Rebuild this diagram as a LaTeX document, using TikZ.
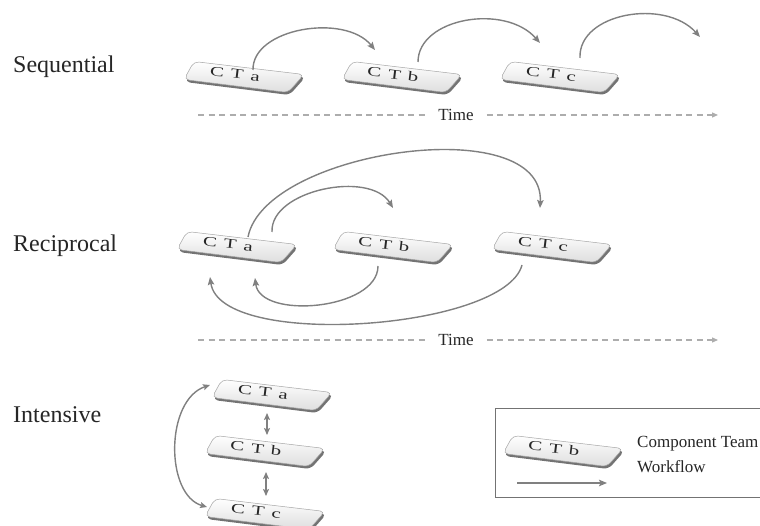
\documentclass[tikz,border=0pt]{standalone}
\usepackage{fontspec}
\setmainfont{Liberation Serif}
\usetikzlibrary{calc,arrows.meta}
\tikzset{
  flow/.style={draw=black!50, line width=1.4pt, -{Stealth[length=8pt,width=6.5pt,inset=1.5pt]}},
  flowboth/.style={draw=black!50, line width=1.4pt, {Stealth[length=7pt,width=6pt,inset=1.5pt]}-{Stealth[length=7pt,width=6pt,inset=1.5pt]}},
  timeline/.style={draw=black!32, line width=1.2pt, dash pattern=on 6pt off 4.5pt},
  timetip/.style={-{Triangle[length=6pt,width=5pt]}},
  rowlabel/.style={font=\fontsize{24}{28}\selectfont, anchor=base west, inner sep=0pt, text=black!85},
  timetext/.style={font=\fontsize{17}{20}\selectfont, anchor=base, inner ysep=0pt, inner xsep=13pt, text=black!85},
  legtext/.style={font=\fontsize{17}{20}\selectfont, anchor=base west, inner sep=0pt, text=black!85},
  tiletext/.style={font=\fontsize{15}{17}\selectfont, rotate=-7, xscale=1.4, yscale=0.9, inner sep=0pt, text=black!85},
  tileshadow/.style={fill=black!55, rounded corners=5pt},
  tileface/.style={top color=white, bottom color=black!13, draw=black!35, line width=0.5pt, rounded corners=5pt},
  legbox/.style={draw=black!55, line width=0.8pt}
}
\newcommand{\ctilebox}[4]{%
  \coordinate (#1) at (#2,#3);
  \fill[tileshadow] ($(#1)+(-49,-13)$) -- ($(#1)+(61.5,0)$) -- ($(#1)+(45.5,18)$) -- ($(#1)+(-59,5)$) -- cycle;
  \shade[tileface] ($(#1)+(-50,-15.5)$) -- ($(#1)+(60,-2.5)$) -- ($(#1)+(44,15.5)$) -- ($(#1)+(-60,2.5)$) -- cycle;
  \node[tiletext] (#1-t) at ($(#1)+(-9,-3)$) {C\hspace{5pt}T\hspace{5pt}#4};
}
\begin{document}
\begin{tikzpicture}[x=1pt,y=-1pt]
\useasboundingbox[fill=white] (0,0) rectangle (760,526);

% ---------- row labels ----------
\node[rowlabel] (lseq) at (13,73) {Sequential};
\node[rowlabel] (lrec) at (13,252) {Reciprocal};
\node[rowlabel] (lint) at (13,422) {Intensive};

% ---------- Sequential ----------
\ctilebox{sa}{244}{77}{a}
\ctilebox{sb}{402}{77}{b}
\ctilebox{sc}{560}{77}{c}
\coordinate (sa-o) at (253,70);
\coordinate (sb-i) at (375,50);
\coordinate (sb-o) at (418,62);
\coordinate (sc-i) at (540,43);
\coordinate (sc-o) at (580,58);
\coordinate (sx-i) at (700,37);
\draw[flow] (sa-o) .. controls (252,28) and (345,13) .. (sb-i);
\draw[flow] (sb-o) .. controls (418,18) and (505,3) .. (sc-i);
\draw[flow] (sc-o) .. controls (578,13) and (665,-2) .. (sx-i);

\node[timetext] (t1) at (456,121) {Time};
\coordinate (t1l) at (198,115);
\coordinate (t1r) at (718,115);
\draw[timeline] (t1l) -- (t1l -| t1.west);
\draw[timeline,timetip] (t1l -| t1.east) -- (t1r);

% ---------- Reciprocal ----------
\ctilebox{ra}{237}{247}{a}
\ctilebox{rb}{393}{247}{b}
\ctilebox{rc}{552}{247}{c}
\coordinate (ra-o1) at (248,237);
\coordinate (ra-o2) at (272,232);
\coordinate (rb-i) at (393,208);
\coordinate (rc-i) at (540,208);
\coordinate (rb-o) at (378,266);
\coordinate (rc-o) at (522,265);
\coordinate (ra-i1) at (255,278);
\coordinate (ra-i2) at (210,277);
\draw[flow] (ra-o1) .. controls (265,150) and (545,110) .. (rc-i);
\draw[flow] (ra-o2) .. controls (270,190) and (370,170) .. (rb-i);
\draw[flow] (rb-o) .. controls (378,310) and (260,320) .. (ra-i1);
\draw[flow] (rc-o) .. controls (505,330) and (220,350) .. (ra-i2);

\node[timetext] (t2) at (456,346) {Time};
\coordinate (t2l) at (198,340);
\coordinate (t2r) at (718,340);
\draw[timeline] (t2l) -- (t2l -| t2.west);
\draw[timeline,timetip] (t2l -| t2.east) -- (t2r);

% ---------- Intensive ----------
\ctilebox{ia}{272}{395}{a}
\ctilebox{ib}{265}{451}{b}
\ctilebox{ic}{265}{514}{c}
\coordinate (ia-d) at (267,413);
\coordinate (ib-u) at (267,435);
\coordinate (ib-d) at (266,472);
\coordinate (ic-u) at (266,496);
\coordinate (ia-l) at (210,385);
\coordinate (ic-l) at (207,507);
\draw[flowboth] (ia-d) -- (ib-u);
\draw[flowboth] (ib-d) -- (ic-u);
\draw[flowboth] (ia-l) .. controls (165,400) and (165,495) .. (ic-l);

% ---------- Legend ----------
\coordinate (lb1) at (762,408);
\coordinate (lb2) at (495,408);
\coordinate (lb3) at (495,497);
\coordinate (lb4) at (762,497);
\draw[legbox] (lb1) -- (lb2) -- (lb3) -- (lb4);
\ctilebox{lg}{563}{451}{b}
\coordinate (lg-a) at (517,483);
\coordinate (lg-b) at (607,483);
\draw[flow] (lg-a) -- (lg-b);
\node[legtext] (lct) at (637,447) {Component Team};
\node[legtext] (lwf) at (637,472) {Workflow};
\end{tikzpicture}
\end{document}
